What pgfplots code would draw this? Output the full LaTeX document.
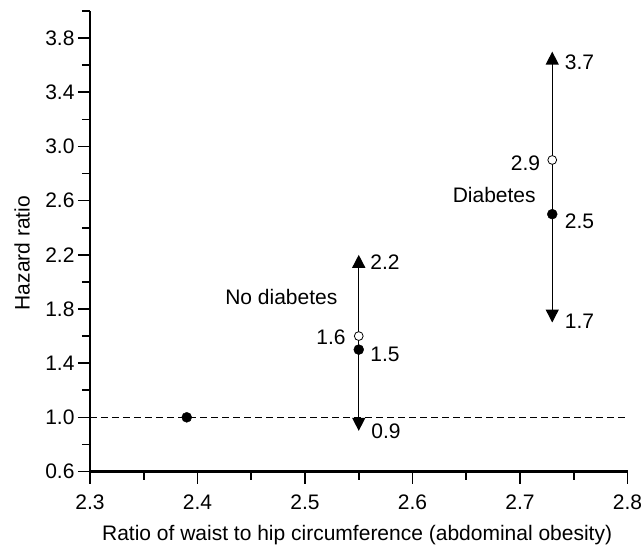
\documentclass[border=0pt]{standalone}
\usepackage{fontspec}
\setmainfont{Liberation Sans}
\usepackage{pgfplots}
\pgfplotsset{compat=1.18}
\usetikzlibrary{arrows.meta}
\newcommand{\lbl}{\fontsize{21bp}{25bp}\selectfont}

% confidence-interval arrows
\tikzset{ci/.style={line width=1.4bp, black,
  {Triangle[length=13bp,width=13bp]}-{Triangle[length=13bp,width=13bp]}}}
\tikzset{vlab/.style={font=\lbl, inner sep=0pt}}

\begin{document}
\begin{tikzpicture}
\useasboundingbox (-90bp,-76.5bp) rectangle (552bp,471.5bp);
\begin{axis}[
  at={(0,0)}, anchor=south west,
  scale only axis, width=537.5bp, height=460.5bp,
  xmin=2.3, xmax=2.8, ymin=0.6, ymax=4.0,
  axis x line*=bottom, axis y line*=left,
  axis line style={line width=2.2bp, -},
  xtick={2.3,2.4,2.5,2.6,2.7,2.8},
  minor xtick={2.35,2.45,2.55,2.65,2.75},
  ytick={0.6,1.0,1.4,1.8,2.2,2.6,3.0,3.4,3.8},
  minor ytick={0.8,1.2,1.6,2.0,2.4,2.8,3.2,3.6,4.0},
  tick align=outside,
  major tick length=12bp, minor tick length=8bp,
  every tick/.style={black, line width=1.6bp},
  tick label style={font=\lbl},
  /pgf/number format/assume math mode=true,
  xticklabel style={yshift=-8bp, /pgf/number format/.cd, fixed, fixed zerofill, precision=1},
  yticklabel style={/pgf/number format/.cd, fixed, fixed zerofill, precision=1},
  xlabel={Ratio of waist to hip circumference (abdominal obesity)},
  ylabel={Hazard ratio},
  label style={font=\lbl},
  xlabel style={at={(axis description cs:0.497,-0.138)}, anchor=center},
  ylabel style={at={(axis description cs:-0.1265,0.4745)}, anchor=center},
  clip=false,
]
% reference line at a hazard ratio of 1
\addplot[black, line width=1.3bp, dash pattern=on 7bp off 4bp] coordinates {(2.3,1.0) (2.8,1.0)};

% 95% confidence intervals
\addplot[ci] coordinates {(2.55,0.9) (2.55,2.2)};
\addplot[ci] coordinates {(2.73,1.7) (2.73,3.7)};

% reference category
\addplot[only marks, mark=*, mark size=5bp, black] coordinates {(2.39,1.0)};
% adjusted estimates (filled) and crude estimates (open)
\addplot[only marks, mark=*, mark size=5bp, black] coordinates {(2.55,1.5) (2.73,2.5)};
\addplot[only marks, mark=*, mark size=4.4bp, black, fill=white, line width=0.8bp] coordinates {(2.55,1.6) (2.73,2.9)};

% value labels
\node[vlab, anchor=west] at (axis cs:2.55,2.2) [xshift=11.5bp, yshift=-7bp] {2.2};
\node[vlab, anchor=east] at (axis cs:2.55,1.6) [xshift=-13bp, yshift=-1bp] {1.6};
\node[vlab, anchor=west] at (axis cs:2.55,1.5) [xshift=11.5bp, yshift=-5bp] {1.5};
\node[vlab, anchor=west] at (axis cs:2.55,0.9) [xshift=12.5bp] {0.9};
\node[vlab, anchor=west] at (axis cs:2.73,3.7) [xshift=12.4bp, yshift=-11bp] {3.7};
\node[vlab, anchor=east] at (axis cs:2.73,2.9) [xshift=-12bp, yshift=-3bp] {2.9};
\node[vlab, anchor=west] at (axis cs:2.73,2.5) [xshift=12.4bp, yshift=-7bp] {2.5};
\node[vlab, anchor=west] at (axis cs:2.73,1.7) [xshift=12.4bp, yshift=1bp] {1.7};

% group labels
\node[vlab] at (axis cs:2.478,1.892) {No diabetes};
\node[vlab] at (axis cs:2.676,2.644) {Diabetes};
\end{axis}
\end{tikzpicture}
\end{document}
